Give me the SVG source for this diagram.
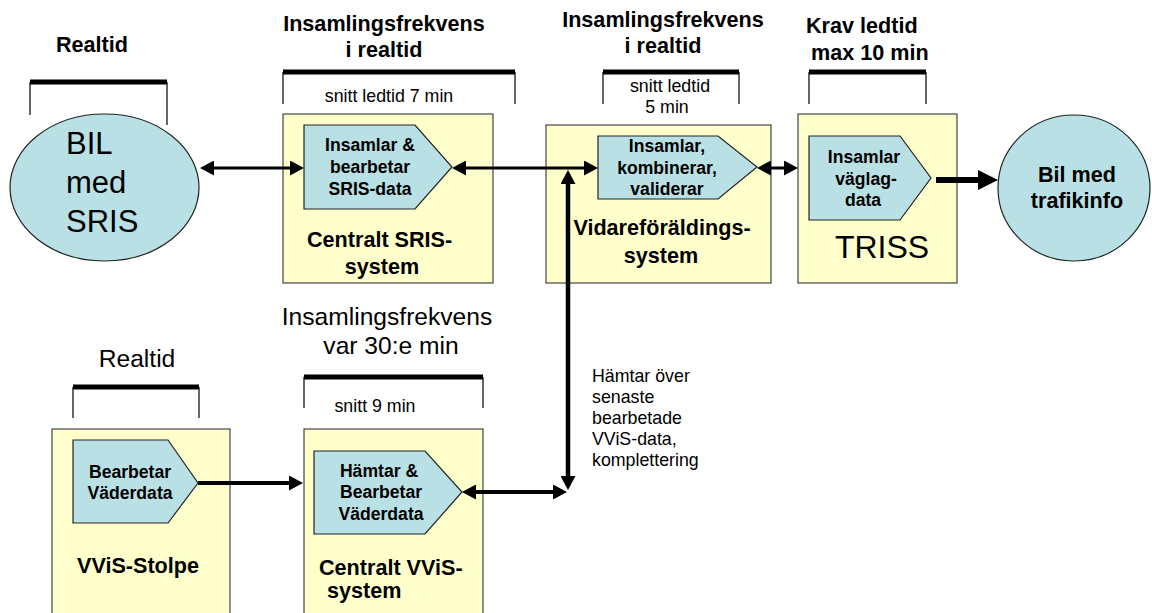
<svg xmlns="http://www.w3.org/2000/svg" width="1152" height="613" viewBox="0 0 1152 613">
<defs>
<style>
.box{fill:#FFFFCC;stroke:#444;stroke-width:1.2}
.pent{fill:#B9E0E4;stroke:#222;stroke-width:1.2}
.t{font-family:"Liberation Sans",Arial,sans-serif;fill:#000}
.hb{font-size:21.6px;font-weight:bold}
.pt{font-size:17.6px;font-weight:bold}
.sm{font-size:17.8px}
.hn{font-size:24.6px}
.brk{stroke:#000;stroke-width:5;fill:none}
.tick{stroke:#000;stroke-width:1.2;fill:none}
.c{stroke:#000;fill:none}
</style>
<marker id="ah" markerUnits="userSpaceOnUse" markerWidth="14" markerHeight="15" refX="10" refY="7.5" orient="auto-start-reverse">
<path d="M0,0 L14,7.5 L0,15 z" fill="#000"/>
</marker>
<marker id="ahb" markerUnits="userSpaceOnUse" markerWidth="20" markerHeight="20" refX="14" refY="10" orient="auto">
<path d="M0,0 L20,10 L0,20 z" fill="#000"/>
</marker>
</defs>
<rect width="1152" height="613" fill="#fff"/>

<g id="bracket-realtid-top">
<text class="t hb" x="92" y="52" text-anchor="middle">Realtid</text>
<line class="brk" x1="30" y1="82" x2="167" y2="82"/>
<path class="tick" d="M30,82 V115 M167,82 V125"/>
</g>

<g id="bracket-sris">
<text class="t hb" x="384" y="31" text-anchor="middle">Insamlingsfrekvens</text>
<text class="t hb" x="384" y="57" text-anchor="middle">i realtid</text>
<line class="brk" x1="283" y1="72" x2="515" y2="72"/>
<path class="tick" d="M283,72 V104 M515,72 V104"/>
<text class="t sm" x="389" y="102" text-anchor="middle">snitt ledtid 7 min</text>
</g>

<g id="bracket-vidare">
<text class="t hb" x="663" y="27" text-anchor="middle">Insamlingsfrekvens</text>
<text class="t hb" x="663" y="53" text-anchor="middle">i realtid</text>
<line class="brk" x1="603" y1="72" x2="739" y2="72"/>
<path class="tick" d="M603,72 V104 M739,72 V104"/>
<text class="t sm" x="670" y="92" text-anchor="middle">snitt ledtid</text>
<text class="t sm" x="667" y="113" text-anchor="middle">5 min</text>
</g>

<g id="bracket-triss">
<text class="t hb" x="806" y="33">Krav ledtid</text>
<text class="t hb" x="811" y="60">max 10 min</text>
<line class="brk" x1="809" y1="72" x2="926" y2="72"/>
<path class="tick" d="M809,72 V104 M926,72 V104"/>
</g>

<g id="bracket-realtid-bottom">
<text class="t hn" x="137" y="367" text-anchor="middle">Realtid</text>
<line class="brk" x1="73" y1="387" x2="199" y2="387"/>
<path class="tick" d="M73,387 V418 M199,387 V418"/>
</g>

<g id="bracket-vvis">
<text class="t hn" x="387" y="325" text-anchor="middle">Insamlingsfrekvens</text>
<text class="t hn" x="391" y="354" text-anchor="middle">var 30:e min</text>
<line class="brk" x1="304" y1="377" x2="483" y2="377"/>
<path class="tick" d="M304,377 V408 M483,377 V408"/>
<text class="t sm" x="375" y="412" text-anchor="middle">snitt 9 min</text>
</g>

<g id="bil-sris">
<ellipse cx="104.5" cy="187.5" rx="94.5" ry="73.5" fill="#B9E0E4" stroke="#222" stroke-width="1.2"/>
<text class="t" font-size="31" x="66" y="154">BIL</text>
<text class="t" font-size="31" x="66" y="193">med</text>
<text class="t" font-size="31" x="66" y="232">SRIS</text>
</g>

<g id="centralt-sris">
<rect class="box" x="283" y="114" width="210" height="169"/>
<path class="pent" d="M304,125 H415 L452,167 L415,209 H304 Z"/>
<text class="t pt" x="370" y="151" text-anchor="middle">Insamlar &amp;</text>
<text class="t pt" x="370" y="173" text-anchor="middle">bearbetar</text>
<text class="t pt" x="370" y="195" text-anchor="middle">SRIS-data</text>
<text class="t hb" x="307" y="247">Centralt SRIS-</text>
<text class="t hb" x="382" y="274" text-anchor="middle">system</text>
</g>

<g id="vidare">
<rect class="box" x="546" y="125" width="225" height="158"/>
<path class="pent" d="M598,136 H718 L757,167 L718,199 H598 Z"/>
<text class="t pt" x="667" y="152" text-anchor="middle">Insamlar,</text>
<text class="t pt" x="667" y="174" text-anchor="middle">kombinerar,</text>
<text class="t pt" x="667" y="195" text-anchor="middle">validerar</text>
<text class="t hb" x="662" y="235" text-anchor="middle">Vidareföräldings-</text>
<text class="t hb" x="661" y="263" text-anchor="middle">system</text>
</g>

<g id="triss">
<rect class="box" x="798" y="114" width="159" height="169"/>
<path class="pent" d="M809,136 H900 L931,178 L900,220 H809 Z"/>
<text class="t pt" x="864" y="163" text-anchor="middle">Insamlar</text>
<text class="t pt" x="866" y="185" text-anchor="middle">väglag-</text>
<text class="t pt" x="863" y="206" text-anchor="middle">data</text>
<text class="t" font-size="32" x="882" y="258" text-anchor="middle">TRISS</text>
</g>

<g id="bil-trafikinfo">
<ellipse cx="1074" cy="188" rx="76" ry="73" fill="#B9E0E4" stroke="#222" stroke-width="1.2"/>
<text class="t hb" x="1077" y="182" text-anchor="middle">Bil med</text>
<text class="t hb" x="1077" y="208" text-anchor="middle">trafikinfo</text>
</g>

<g id="vvis-stolpe">
<rect class="box" x="52" y="429" width="178" height="190"/>
<path class="pent" d="M73,440 H168 L198,483 L168,523 H73 Z"/>
<text class="t pt" x="130" y="478" text-anchor="middle">Bearbetar</text>
<text class="t pt" x="130" y="499" text-anchor="middle">Väderdata</text>
<text class="t hb" x="138" y="573" text-anchor="middle">VViS-Stolpe</text>
</g>

<g id="centralt-vvis">
<rect class="box" x="304" y="429" width="179" height="190"/>
<path class="pent" d="M314,451 H425 L462,492 L425,534 H314 Z"/>
<text class="t pt" x="379" y="477" text-anchor="middle">Hämtar &amp;</text>
<text class="t pt" x="381" y="498" text-anchor="middle">Bearbetar</text>
<text class="t pt" x="381" y="520" text-anchor="middle">Väderdata</text>
<text class="t hb" x="319" y="575">Centralt VViS-</text>
<text class="t hb" x="327" y="598">system</text>
</g>

<g id="annotation">
<text class="t sm" x="592" y="382">Hämtar över</text>
<text class="t sm" x="592" y="403">senaste</text>
<text class="t sm" x="592" y="424">bearbetade</text>
<text class="t sm" x="592" y="445">VViS-data,</text>
<text class="t sm" x="592" y="466">komplettering</text>
</g>

<g id="connectors">
<line class="c" x1="204" y1="168" x2="300" y2="168" stroke-width="3" marker-start="url(#ah)" marker-end="url(#ah)"/>
<line class="c" x1="456" y1="168" x2="594" y2="168" stroke-width="3" marker-start="url(#ah)" marker-end="url(#ah)"/>
<line class="c" x1="761" y1="168" x2="794" y2="168" stroke-width="3" marker-start="url(#ah)" marker-end="url(#ah)"/>
<line class="c" x1="936" y1="180" x2="992" y2="180" stroke-width="6" marker-end="url(#ahb)"/>
<line class="c" x1="198" y1="483" x2="299" y2="483" stroke-width="4" marker-end="url(#ah)"/>
<line class="c" x1="466" y1="492" x2="563" y2="492" stroke-width="4" marker-start="url(#ah)" marker-end="url(#ah)"/>
<line class="c" x1="568" y1="174" x2="568" y2="486" stroke-width="4.5" marker-start="url(#ah)" marker-end="url(#ah)"/>
</g>
</svg>
